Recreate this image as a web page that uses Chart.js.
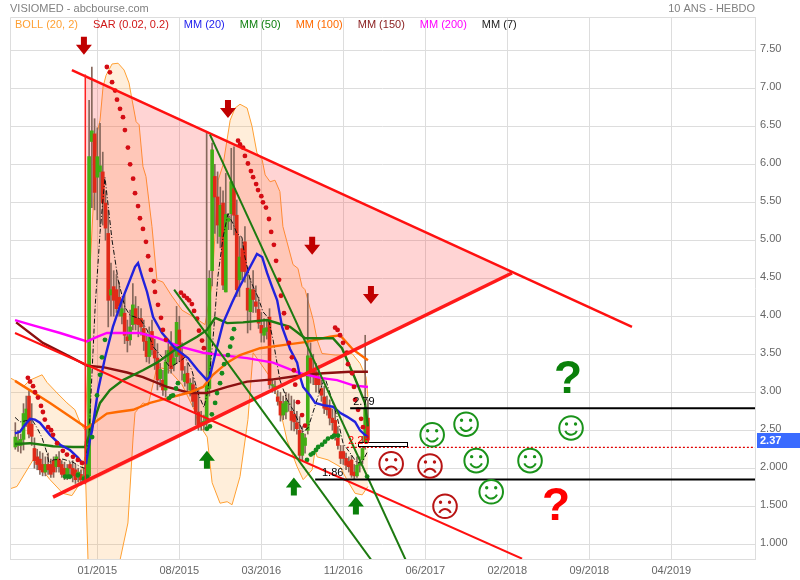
<!DOCTYPE html>
<html>
<head>
<meta charset="utf-8">
<title>VISIOMED</title>
<script src="https://cdn.jsdelivr.net/npm/chart.js@4/dist/chart.umd.min.js"></script>
<style>
  html, body { margin: 0; padding: 0; background: #fff; }
  canvas { display: block; }
</style>
</head>
<body>
<canvas id="graphique" width="800" height="580"></canvas>
<script>
// tick labels
const xTickWeeks = [0, 30, 60, 90, 120, 150, 180, 210];
const xTickLabels = ['01/2015', '08/2015', '03/2016', '11/2016', '06/2017', '02/2018', '09/2018', '04/2019'];
const yTickValues = [7.5, 7, 6.5, 6, 5.5, 5, 4.5, 4, 3.5, 3, 2.5, 2, 1.5, 1];
const yTickLabels = ['7.50', '7.00', '6.50', '6.00', '5.50', '5.00', '4.50', '4.00', '3.50', '3.00', '2.50', '2.000', '1.500', '1.000'];

const legendLabels = ['BOLL (20, 2)', 'SAR (0.02, 0.2)', 'MM (20)', 'MM (50)', 'MM (100)', 'MM (150)', 'MM (200)', 'MM (7)'];

// bougies hebdo, semaine 0 = 01/2015
const firstCandleWeek = -30;
const candleOpen = [2.28,2.30,2.30,2.38,2.63,2.95,2.58,2.26,2.15,2.12,2.05,1.95,2.05,2.05,2.10,2.02,2.12,2.05,2.00,1.90,2.05,2.00,1.98,1.88,1.92,1.85,1.84,1.90,6.30,6.40,
  5.83,5.90,5.90,5.49,5.09,4.28,4.39,4.35,4.25,4.00,4.04,3.73,3.69,3.89,4.10,3.97,3.97,3.84,3.67,3.47,3.80,3.55,3.45,3.18,3.16,3.03,3.40,3.60,3.36,3.47,
  3.82,3.51,3.14,3.25,3.03,3.10,2.98,2.74,2.60,2.57,2.62,3.05,4.60,5.84,5.57,5.05,5.49,4.32,5.25,5.35,5.68,5.33,4.48,4.89,4.98,4.37,4.06,4.35,4.19,4.09,
  3.88,3.75,3.80,3.99,3.09,3.05,2.94,2.88,2.70,2.74,2.85,2.75,2.71,2.60,2.50,2.17,2.30,2.50,3.45,3.29,3.27,3.20,3.05,2.94,2.82,2.79,2.66,2.63,2.40,2.22,
  2.22,2.13,2.09,2.11,1.95,1.90,2.04,2.11,2.30,2.66];
const candleHigh = [2.60,2.50,2.45,2.85,2.95,3.02,2.85,2.40,2.25,2.22,2.20,2.15,2.20,2.12,2.15,2.18,2.22,2.10,2.08,2.05,2.08,2.10,2.05,2.00,1.98,2.00,2.55,6.84,7.28,6.60,
  6.48,6.54,6.16,5.65,5.40,4.70,4.60,4.55,4.45,4.20,4.28,3.95,4.08,4.43,4.26,4.13,4.10,3.95,3.78,3.86,3.95,3.70,3.64,3.38,3.29,3.55,3.70,3.80,3.64,4.13,
  4.00,3.65,3.34,3.38,3.18,3.20,3.07,3.03,2.75,2.70,6.41,4.60,6.28,6.00,5.90,5.70,5.65,5.88,5.35,6.21,6.23,5.53,5.05,5.00,5.18,4.65,4.50,4.60,4.40,4.25,
  4.05,3.97,3.95,4.10,3.18,3.15,3.02,3.00,2.95,3.00,2.98,2.95,2.90,2.75,2.68,2.55,2.45,4.30,3.65,3.50,3.38,3.35,3.16,3.08,2.95,2.90,2.78,2.77,2.55,2.30,
  2.30,2.20,2.15,2.17,2.05,2.15,2.15,2.42,3.75,2.90];
const candleLow = [2.25,2.22,2.20,2.24,2.55,2.40,2.30,2.00,1.98,1.92,1.90,1.90,1.92,1.88,1.88,1.95,1.95,1.88,1.85,1.85,1.86,1.82,1.80,1.82,1.78,1.80,1.82,1.85,5.43,5.40,
  5.27,5.18,5.20,5.00,3.86,4.00,4.00,4.05,4.00,3.90,3.64,3.53,3.62,3.82,3.82,3.73,3.75,3.55,3.40,3.38,3.49,3.30,3.03,3.07,2.96,2.94,3.25,3.25,3.28,3.38,
  3.40,3.16,3.08,2.99,2.95,2.81,2.57,2.50,2.50,2.50,2.55,2.95,4.40,5.09,4.96,4.90,4.35,4.32,5.14,5.14,5.07,4.26,4.26,4.48,4.45,3.78,3.82,4.05,4.05,3.84,
  3.66,3.66,3.70,3.05,3.00,2.98,2.83,2.62,2.64,2.65,2.75,2.50,2.49,2.45,2.10,2.10,2.20,2.45,3.12,3.10,3.00,3.00,2.88,2.72,2.70,2.57,2.50,2.37,2.25,2.06,
  2.05,1.98,1.95,1.88,1.86,1.88,1.95,2.06,2.25,2.30];
const candleClose = [2.41,2.36,2.38,2.72,2.78,2.45,2.42,2.10,2.05,1.98,1.95,2.05,1.98,1.92,1.95,2.15,2.02,1.92,1.90,2.00,2.00,1.90,1.85,1.95,1.85,1.90,2.35,6.10,6.44,5.63,
  6.10,5.98,5.49,5.16,4.21,4.35,4.21,4.10,4.14,4.10,3.75,3.68,3.86,4.15,3.90,3.89,3.86,3.67,3.47,3.73,3.56,3.45,3.16,3.30,3.03,3.40,3.55,3.31,3.45,3.92,
  3.49,3.29,3.24,3.12,3.12,2.88,2.74,2.57,2.57,2.62,3.10,4.50,6.19,5.57,5.20,5.46,4.41,5.34,5.29,5.77,5.33,4.35,4.78,4.59,4.59,4.08,4.35,4.22,4.13,3.91,
  3.78,3.84,3.85,3.10,3.10,3.08,2.88,2.70,2.85,2.88,2.85,2.63,2.61,2.52,2.17,2.46,2.40,3.48,3.27,3.23,3.10,3.10,2.96,2.79,2.77,2.66,2.60,2.42,2.30,2.13,
  2.13,2.04,2.02,1.91,1.90,2.04,2.08,2.26,2.79,2.37];

// bollinger
const bollUpperWeeks = [-31.9,-29.4,-27.2,-24.6,-20.2,-18.4,-14.7,-11.1,-8.2,-6.3,-4.5,-3.4,-2.7,-0.1,1,2.1,3.2,5.4,7.6,9.8,11.6,12.7,14.2,15.3,16.7,17.8,20,21.8,24,27,31,35.7,39.4,42,44.2,46,48.6,50.4,52.2,54.8,56.6,58.4,60.3,61.4,63.2,65,66.8,67.9,71.6,73.4,74.9,76,79,80.4,82.2,87,89.9,93.2,96.1,98.3,99];
const bollUpper = [3.19,3.14,3.07,3.16,3.23,3.13,2.99,2.86,2.77,2.60,2.50,3.40,4.61,6.41,6.58,7.02,7.17,7.32,7.33,7.24,7.07,6.85,6.56,6.52,5.97,5.84,5.18,4.48,4.45,4.28,4.08,3.98,3.89,4.43,5.79,5.99,6.58,6.74,6.79,6.74,6.50,6.15,6.06,5.86,5.77,5.79,5.64,5.18,4.68,4.63,4.39,4.35,3.95,3.69,3.51,3.49,3.49,3.51,3.38,3.20,2.94];
const bollLowerWeeks = [-31.9,-29.4,-23.5,-20.2,-17.3,-12.6,-9.3,-7.1,-4.5,-3.4,1,5,8.3,11.2,13.1,13.8,16.7,18.6,21.8,26,31,35.7,36.8,40.2,42,44.9,47.5,49.3,52.2,55.1,57,63.2,65.8,69.4,73.1,75.3,78.6,79.7,80.4,84.4,88.8,91.3,94.3,96.9,99];
const bollLower = [1.73,1.76,2.11,1.98,1.85,1.67,1.64,1.76,2.15,0.79,0.40,0.40,0.79,1.28,2.41,2.73,2.86,2.83,3.33,3.30,3.10,2.75,2.60,2.41,1.81,1.54,1.56,1.52,1.89,2.64,3.52,3.20,2.94,2.37,2.02,1.85,1.98,2.24,2.15,2.11,2.02,1.85,1.67,1.65,1.76];

// SAR
const sarRedWeeks = [-25.4,-24.6,-23.5,-22.8,-21.7,-20.6,-19.9,-19.2,-18,-16.9,-16.2,-14.7,-12.6,-11.1,-8.9,-7.1,-5.6,
  3.5,4.6,5.4,6.5,7.2,8.3,9.4,10.1,11.2,12,13.1,13.8,14.9,15.6,16.7,17.8,18.6,19.6,20.7,21.1,22.2,23.3,24,25.1,
  30.6,31.7,32.8,33.6,34.6,35.4,36.5,37.2,38.3,39,
  51.5,52.2,53.3,54,55.1,56.2,57,58.1,58.8,60,60.6,61.7,62.8,63.6,64.6,65.4,66.5,67.2,68.3,69.4,70.1,71.2,71.9,72.4,73.4,74.9,76,
  87,87.9,88.8,89.9,91.3,91.7,93.2,93.9,94.3,95.4,96.5,97.2];
const sarRedValues = [3.19,3.14,3.08,3.00,2.93,2.82,2.74,2.64,2.54,2.50,2.44,2.33,2.23,2.18,2.15,2.11,2.07,
  7.28,7.21,7.08,6.97,6.85,6.73,6.62,6.45,6.22,6.00,5.81,5.62,5.45,5.29,5.15,4.98,4.79,4.61,4.46,4.32,4.15,3.98,3.82,3.69,
  4.31,4.27,4.24,4.21,4.16,4.07,3.97,3.81,3.68,3.58,
  6.31,6.26,6.22,6.11,6.01,5.91,5.83,5.74,5.66,5.58,5.50,5.43,5.28,5.11,4.94,4.73,4.48,4.27,4.04,3.85,3.65,3.46,3.29,3.10,2.87,2.70,2.56,
  3.85,3.82,3.75,3.65,3.52,3.37,3.25,3.07,2.90,2.77,2.65,2.54];
const sarGreenWeeks = [-11.8,-10.7,-10,-7.1,-4.9,-3.8,-1.9,-0.1,1,1.7,2.8,26.2,27,27.7,28.8,29.5,
  40.1,41.2,41.9,43.1,43.8,44.9,45.6,46.4,47.8,48.6,49.3,50,
  76.7,78.1,79,80,80.8,82.2,83.3,84.4,85.9,86.6,88.1,98.7];
const sarGreenValues = [1.89,1.89,1.89,1.91,1.86,1.89,2.41,2.96,3.23,3.46,3.69,2.92,2.95,2.96,3.05,3.12,
  2.52,2.55,2.71,2.86,2.99,3.12,3.25,3.37,3.49,3.60,3.71,3.83,
  2.11,2.18,2.20,2.24,2.28,2.31,2.35,2.39,2.41,2.43,2.43,1.89];

// moyennes mobiles
const mm20Weeks = [-30.1,-28.3,-26.5,-24.6,-22.8,-21,-17.3,-13.6,-10,-7.1,-5.6,-4.1,-2.7,-1.9,0.3,2.8,5.7,9,11.2,13.8,14.9,16.4,18.2,20.4,23.7,28.4,33.2,36.8,40.1,41.2,43.8,46,49.3,51.5,54,58.4,60.3,62.1,63.9,65.8,67.6,70.5,73.1,74.2,75.3,77.8,79.7,82.6,86.2,88.8,91.3,94.3,96.1,97.9,99];
const mm20 = [2.46,2.48,2.57,2.65,2.64,2.60,2.44,2.31,2.24,2.14,2.07,2.07,2.37,2.50,3.03,3.45,3.86,4.21,4.41,4.65,4.70,4.52,4.32,3.99,3.78,3.58,3.45,3.29,3.16,3.21,3.60,3.91,4.18,4.35,4.52,4.82,4.78,4.57,4.39,4.21,3.86,3.57,3.39,3.20,3.07,2.96,2.86,2.83,2.81,2.73,2.68,2.61,2.50,2.44,2.41];
const mm50Weeks = [-30.1,-24.6,-16.2,-8.9,-4.5,-2.7,-0.8,1,4.6,9.4,16.7,21.8,29.2,36.5,40.1,43.1,47.5,53.3,62.1,70.5,76,86.2,89.5,94.3,97.9,99];
const mm50 = [2.32,2.33,2.29,2.28,2.28,2.46,2.67,2.86,3.03,3.16,3.29,3.39,3.58,3.73,3.82,3.98,3.91,3.92,3.95,3.86,3.71,3.71,3.58,3.18,2.86,2.55];
const mm100Weeks = [-30.1,-17.3,-3.8,3.5,7.2,13.1,19.3,25.5,33.9,38.7,42.3,47.5,52.2,59.5,67.9,76,85.1,88.8,93.6,99];
const mm100 = [3.15,2.86,2.53,2.72,2.74,2.77,2.86,2.92,3.00,3.07,3.23,3.39,3.49,3.58,3.62,3.66,3.73,3.75,3.56,3.42];
const mm150Weeks = [-29.7,-19.9,-11.1,-3.8,2.1,10.9,16.7,25.5,33.9,40.1,47.5,54.8,64.3,74.2,82.6,92.5,99];
const mm150 = [3.92,3.65,3.49,3.35,3.33,3.26,3.20,3.07,2.99,2.99,3.07,3.14,3.17,3.22,3.25,3.27,3.27];
const mm200Weeks = [-30.1,-23.5,-13.6,-3.8,-0.1,3.5,15.6,21.8,30.3,38.7,44.9,54.8,64.3,74.2,81.5,87.7,93.6,99];
const mm200 = [3.95,3.88,3.78,3.67,3.73,3.78,3.78,3.72,3.60,3.52,3.49,3.45,3.39,3.25,3.19,3.16,3.09,3.07];
const mm7Weeks = [-30.1,-28.3,-23.9,-22,-20.2,-18.4,-17.7,-16.2,-12.6,-8.9,-6.3,-4.5,-3,-0.8,1,2.8,5.4,7.6,10.1,12,15.6,18.2,20.4,24,26.6,29.5,32.1,34.6,36.8,39,40.5,42.3,44.1,46,47.8,49.6,51.1,52.9,54,55.9,58.8,60.6,62.5,64.3,66.8,69.4,71.6,75.3,77.1,81.5,83.3,85.1,87.7,89.9,92.5,95,96.9,98.7];
const mm7 = [2.67,2.61,2.64,2.53,2.40,2.20,2.07,2.11,2.12,2.08,2.02,2.00,2.45,4.12,5.10,5.83,5.00,4.48,4.12,4.01,3.97,3.82,3.60,3.45,3.33,3.39,3.46,3.29,2.99,2.80,3.03,3.69,4.52,5.04,5.35,5.22,5.09,5.04,4.78,4.48,4.25,4.06,3.98,3.69,3.16,2.90,2.77,2.48,2.53,3.03,3.19,2.99,2.68,2.33,2.20,2.07,2.08,2.21];

// triangle et droites tracees a la main (debut, fin)
const triangleTopWeeks = [-4.4, 151.7];
const triangleTop = [7.18, 4.57];
const triangleBottomWeeks = [-4.4, 151.7];
const triangleBottom = [1.79, 4.57];
const triangleLeftWeeks = [-4.4, -4.4];
const triangleLeft = [7.18, 1.79];
const resistanceWeeks = [-9.3, 195.6];
const resistance = [7.24, 3.86];
const supportWeeks = [-16.2, 151.7];
const support = [1.62, 4.57];
const channelWeeks = [-30.1, 155.4];
const channel = [3.78, 0.81];
const greenOneWeeks = [28.1, 100.5];
const greenOne = [4.35, 0.78];
const greenTwoWeeks = [41.2, 113];
const greenTwo = [6.39, 0.78];

const level279Weeks = [92.5, 240.6];
const level279 = [2.79, 2.79];
const level186Weeks = [79.7, 240.6];
const level186 = [1.853, 1.853];
const lastQuoteWeeks = [91.3, 240.6];
const lastQuote = [2.275, 2.275];
const lastPrice = 2.37;

// fleches (pointe) et smileys
const downArrowWeeks = [-4.9, 47.8, 78.6, 100.1];
const downArrowValues = [7.44, 6.61, 4.81, 4.16];
const upArrowWeeks = [40.1, 71.9, 94.6];
const upArrowValues = [2.23, 1.88, 1.63];
const happyWeeks = [122.5, 134.9, 138.6, 158.3, 173.3, 144.1];
const happyValues = [2.44, 2.58, 2.10, 2.10, 2.53, 1.69];
const sadWeeks = [107.5, 121.7, 127.2];
const sadValues = [2.06, 2.03, 1.50];

const pts = (xs, ys) => xs.map((x, i) => ({ x: x, y: ys[i] }));
const FONT = 'Liberation Sans, Arial, sans-serif';
const legendColors = ['#ffa033', '#d01818', '#2222ee', '#108010', '#ff6a00', '#8b2020', '#ff00ff', '#222222'];

function line(data, color, width, order, extra) {
  return Object.assign({
    type: 'line', data: data, borderColor: color, borderWidth: width,
    pointRadius: 0, fill: false, tension: 0, order: order
  }, extra || {});
}

function dots(data, color) {
  return { type: 'line', data: data, showLine: false, pointRadius: 2.4, pointBorderWidth: 0, pointBackgroundColor: color, order: 4 };
}

const candleWeeks = candleOpen.map((_, i) => firstCandleWeek + i);
const candleColors = candleOpen.map((o, i) => candleClose[i] >= o ? '#42ae14' : '#e02a18');

// texte, fleches, smileys : positionnes via les echelles
const decorations = {
  id: 'decorations',
  afterDraw(chart) {
    const ctx = chart.ctx, xs = chart.scales.x, ys = chart.scales.y, area = chart.chartArea;
    ctx.save();
    ctx.strokeStyle = '#dddddd';
    ctx.lineWidth = 1;
    ctx.beginPath();
    ctx.moveTo(area.left + 0.5, area.bottom);
    ctx.lineTo(area.left + 0.5, area.top + 0.5);
    ctx.lineTo(area.right, area.top + 0.5);
    ctx.stroke();

    ctx.textBaseline = 'middle';
    ctx.font = '11px ' + FONT;
    ctx.fillStyle = '#808080';
    ctx.textAlign = 'left';
    ctx.fillText('VISIOMED - abcbourse.com', 10, 9);
    ctx.textAlign = 'right';
    ctx.fillText('10 ANS - HEBDO', 755, 9);
    ctx.textAlign = 'left';
    let lx = 15;
    legendLabels.forEach((t, i) => {
      ctx.fillStyle = legendColors[i];
      ctx.fillText(t, lx, 25);
      lx += ctx.measureText(t).width + 15;
    });

    // petite boite du dernier cours
    ctx.fillStyle = '#ffffff';
    ctx.strokeStyle = '#000000';
    ctx.lineWidth = 1;
    const bx = xs.getPixelForValue(95.3), bw = xs.getPixelForValue(113.2) - bx;
    const by = ys.getPixelForValue(2.34), bh = ys.getPixelForValue(2.285) - by;
    ctx.fillRect(bx, by, bw, bh);
    ctx.strokeRect(Math.round(bx) + 0.5, Math.round(by) + 0.5, Math.round(bw), Math.round(bh));

    ctx.fillStyle = '#000000';
    ctx.fillText('2.79', xs.getPixelForValue(93.6), ys.getPixelForValue(2.87));
    ctx.fillText('1.86', xs.getPixelForValue(82.2), ys.getPixelForValue(1.94));
    ctx.fillStyle = '#ff0000';
    ctx.fillText('2.28', xs.getPixelForValue(91.7), ys.getPixelForValue(2.36));

    const arrow = (week, value, dir, color) => {
      const x = xs.getPixelForValue(week), y = ys.getPixelForValue(value);
      ctx.fillStyle = color;
      ctx.beginPath();
      ctx.moveTo(x, y);
      ctx.lineTo(x - 8, y - dir * 10);
      ctx.lineTo(x - 3, y - dir * 10);
      ctx.lineTo(x - 3, y - dir * 18);
      ctx.lineTo(x + 3, y - dir * 18);
      ctx.lineTo(x + 3, y - dir * 10);
      ctx.lineTo(x + 8, y - dir * 10);
      ctx.closePath();
      ctx.fill();
    };
    downArrowWeeks.forEach((w, i) => arrow(w, downArrowValues[i], 1, '#c00000'));
    upArrowWeeks.forEach((w, i) => arrow(w, upArrowValues[i], -1, '#0a800a'));

    const smiley = (week, value, happy) => {
      const x = xs.getPixelForValue(week), y = ys.getPixelForValue(value);
      const color = happy ? '#1a931a' : '#b81414';
      ctx.strokeStyle = color;
      ctx.fillStyle = color;
      ctx.lineWidth = 2;
      ctx.beginPath();
      ctx.arc(x, y, 11.8, 0, Math.PI * 2);
      ctx.stroke();
      ctx.beginPath();
      ctx.arc(x - 4.5, y - 4, 1.7, 0, Math.PI * 2);
      ctx.arc(x + 4.5, y - 4, 1.7, 0, Math.PI * 2);
      ctx.fill();
      ctx.beginPath();
      if (happy) ctx.arc(x, y + 0.5, 6.2, 0.12 * Math.PI, 0.88 * Math.PI);
      else ctx.arc(x, y + 9, 6.2, 1.12 * Math.PI, 1.88 * Math.PI);
      ctx.stroke();
    };
    happyWeeks.forEach((w, i) => smiley(w, happyValues[i], true));
    sadWeeks.forEach((w, i) => smiley(w, sadValues[i], false));

    ctx.textAlign = 'center';
    ctx.textBaseline = 'alphabetic';
    ctx.font = 'bold 46px ' + FONT;
    ctx.fillStyle = '#0a800a';
    ctx.fillText('?', xs.getPixelForValue(172.2), ys.getPixelForValue(2.99));
    ctx.fillStyle = '#ff0000';
    ctx.fillText('?', xs.getPixelForValue(167.8), ys.getPixelForValue(1.32));

    // etiquette du cours
    const py = ys.getPixelForValue(lastPrice);
    ctx.fillStyle = '#3a6bff';
    ctx.fillRect(757, Math.round(py) - 7, 43, 15);
    ctx.textAlign = 'left';
    ctx.textBaseline = 'middle';
    ctx.font = 'bold 11px ' + FONT;
    ctx.fillStyle = '#ffffff';
    ctx.fillText(lastPrice.toFixed(2), 760, py + 1);
    ctx.restore();
  }
};

new Chart(document.getElementById('graphique'), {
  type: 'line',
  plugins: [decorations],
  data: {
    datasets: [
      line(pts(bollUpperWeeks, bollUpper), '#ffa033', 1, 20, { fill: '+1', backgroundColor: 'rgba(255,160,50,0.18)' }),
      line(pts(bollLowerWeeks, bollLower), '#ffa033', 1, 20),
      line(pts(triangleTopWeeks, triangleTop), 'rgba(0,0,0,0)', 0, 19, { fill: '+1', backgroundColor: 'rgba(255,60,60,0.22)' }),
      line(pts(triangleBottomWeeks, triangleBottom), 'rgba(0,0,0,0)', 0, 19),
      { type: 'bar', grouped: false, order: 12, barThickness: 1, backgroundColor: '#86685c',
        data: candleWeeks.map((w, i) => ({ x: w, y: [candleLow[i], candleHigh[i]] })) },
      { type: 'bar', grouped: false, order: 11, barThickness: 3, backgroundColor: candleColors,
        data: candleWeeks.map((w, i) => ({ x: w, y: [candleOpen[i], candleClose[i]] })) },
      line(pts(mm7Weeks, mm7), '#111111', 1, 10, { borderDash: [5, 2, 1, 2] }),
      line(pts(mm150Weeks, mm150), '#8b1010', 2.4, 9),
      line(pts(mm200Weeks, mm200), '#ff00ff', 2.4, 8),
      line(pts(mm100Weeks, mm100), '#ff6a00', 2.4, 7),
      line(pts(mm50Weeks, mm50), '#1d7a10', 2.4, 6),
      line(pts(mm20Weeks, mm20), '#2222dd', 2.4, 5),
      dots(pts(sarRedWeeks, sarRedValues), '#d40c14'),
      dots(pts(sarGreenWeeks, sarGreenValues), '#138a1c'),
      line(pts(triangleLeftWeeks, triangleLeft), '#ff2020', 1.5, 3),
      line(pts(resistanceWeeks, resistance), '#ff1010', 2.5, 3),
      line(pts(supportWeeks, support), '#ff1a1a', 3.5, 3),
      line(pts(channelWeeks, channel), '#ff1010', 2, 3),
      line(pts(greenOneWeeks, greenOne), '#1d7a10', 2, 2),
      line(pts(greenTwoWeeks, greenTwo), '#1d7a10', 2, 2),
      line(pts(level279Weeks, level279), '#000000', 2, 1),
      line(pts(level186Weeks, level186), '#000000', 2, 1),
      line(pts(lastQuoteWeeks, lastQuote), '#e00000', 1.3, 1, { borderDash: [2, 2] })
    ]
  },
  options: {
    responsive: false,
    animation: false,
    devicePixelRatio: 1,
    events: [],
    layout: { padding: { left: 10, top: 17, right: 0, bottom: 0 } },
    plugins: { legend: { display: false }, title: { display: false }, tooltip: { enabled: false } },
    scales: {
      x: {
        type: 'linear',
        min: -31.94,
        max: 240.6,
        offset: false,
        afterBuildTicks: scale => { scale.ticks = xTickWeeks.map(v => ({ value: v })); },
        afterFit: scale => { scale.height = 21; },
        grid: { color: '#dddddd', drawTicks: false, offset: false },
        border: { color: '#dddddd' },
        ticks: {
          autoSkip: false, maxRotation: 0, padding: 5, color: '#666666',
          font: { family: FONT, size: 11 },
          callback: v => xTickLabels[xTickWeeks.indexOf(v)]
        }
      },
      y: {
        position: 'right',
        min: 0.806,
        max: 7.938,
        afterBuildTicks: scale => { scale.ticks = yTickValues.map(v => ({ value: v })); },
        afterFit: scale => { scale.width = 45; },
        grid: { color: '#dddddd', drawTicks: false },
        border: { color: '#dddddd' },
        ticks: {
          autoSkip: false, padding: 5, color: '#666666', labelOffset: -1,
          font: { family: FONT, size: 11 },
          callback: v => yTickLabels[yTickValues.indexOf(v)]
        }
      }
    }
  }
});
</script>
</body>
</html>
